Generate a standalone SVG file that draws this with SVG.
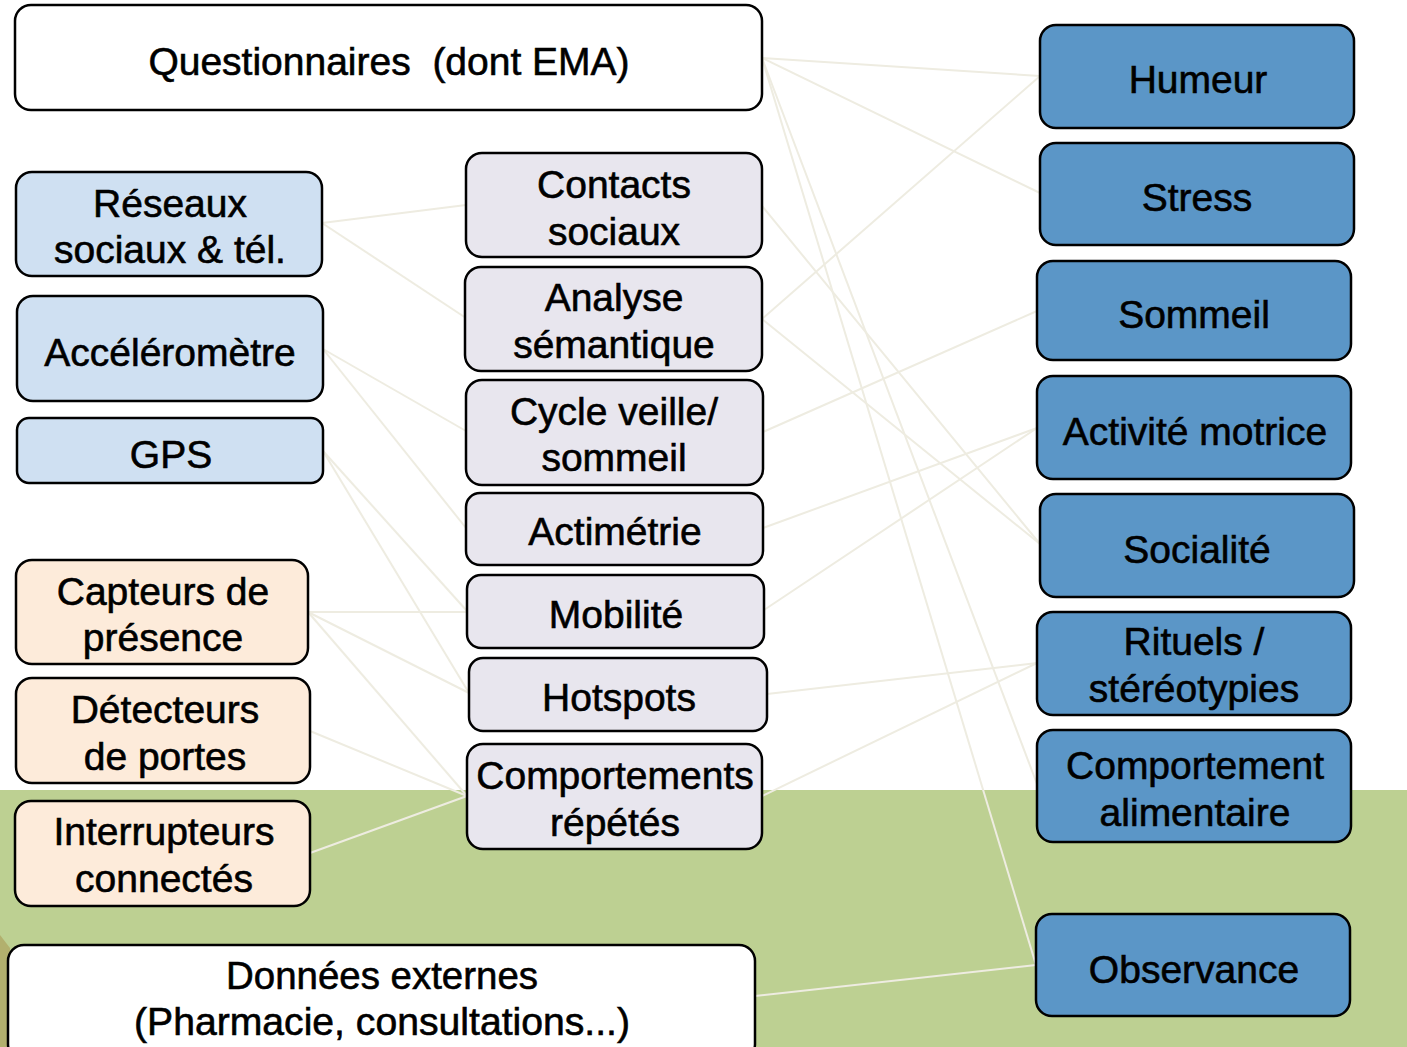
<svg xmlns="http://www.w3.org/2000/svg" width="1407" height="1047" viewBox="0 0 1407 1047">
<style>
.box{stroke:#000;stroke-width:2.5}
.w{fill:#fff}.b{fill:#5B96C7}.lb{fill:#CFE0F2}.pe{fill:#FDEBDA}.lv{fill:#E8E6EE}
text{font-family:"Liberation Sans",Arial,sans-serif;font-size:39px;fill:#000;stroke:#000;stroke-width:0.6;text-anchor:middle}
.c line{stroke:#EEECE1;stroke-width:2}
</style>
<rect x="0" y="0" width="1407" height="1047" fill="#fff"/>
<rect x="0" y="790" width="1407" height="257" fill="#BDD092"/>
<polygon points="0,935 10,948 10,1047 0,1047" fill="#B2B06E"/>
<g id="connectors" class="c">
<line x1="762" y1="58" x2="1040" y2="76"/>
<line x1="762" y1="58" x2="1040" y2="193"/>
<line x1="762" y1="58" x2="1036" y2="965"/>
<line x1="762" y1="58" x2="1037" y2="784"/>
<line x1="762" y1="206" x2="1040" y2="544"/>
<line x1="762" y1="319" x2="1040" y2="544"/>
<line x1="762" y1="319" x2="1040" y2="76"/>
<line x1="763" y1="432" x2="1037" y2="311"/>
<line x1="763" y1="528" x2="1037" y2="428"/>
<line x1="764" y1="610" x2="1037" y2="428"/>
<line x1="767" y1="694" x2="1037" y2="663"/>
<line x1="762" y1="796" x2="1037" y2="663"/>
<line x1="755" y1="996" x2="1036" y2="965"/>
<line x1="322" y1="223" x2="466" y2="205"/>
<line x1="322" y1="223" x2="466" y2="318"/>
<line x1="323" y1="349" x2="466" y2="431"/>
<line x1="323" y1="349" x2="466" y2="528"/>
<line x1="323" y1="451" x2="467" y2="611"/>
<line x1="323" y1="451" x2="469" y2="693"/>
<line x1="308" y1="612" x2="467" y2="612"/>
<line x1="308" y1="612" x2="469" y2="693"/>
<line x1="308" y1="612" x2="467" y2="796"/>
<line x1="310" y1="731" x2="467" y2="796"/>
<line x1="310" y1="853" x2="467" y2="796"/>
</g>
<g id="n-questionnaires"><rect class="box w" x="15" y="5" width="747" height="105" rx="16"/><text x="389" y="75" xml:space="preserve" style="white-space:pre">Questionnaires  (dont EMA)</text></g>
<g id="n-humeur"><rect class="box b" x="1040" y="25" width="314" height="103" rx="16"/><text x="1198" y="93">Humeur</text></g>
<g id="n-stress"><rect class="box b" x="1040" y="143" width="314" height="102" rx="16"/><text x="1197" y="211">Stress</text></g>
<g id="n-sommeil"><rect class="box b" x="1037" y="261" width="314" height="99" rx="16"/><text x="1194" y="328">Sommeil</text></g>
<g id="n-activite"><rect class="box b" x="1037" y="376" width="314" height="103" rx="16"/><text x="1195" y="445">Activité motrice</text></g>
<g id="n-socialite"><rect class="box b" x="1040" y="494" width="314" height="103" rx="16"/><text x="1197" y="563">Socialité</text></g>
<g id="n-rituels"><rect class="box b" x="1037" y="612" width="314" height="103" rx="16"/><text x="1194" y="655">Rituels /</text><text x="1194" y="702">stéréotypies</text></g>
<g id="n-alimentaire"><rect class="box b" x="1037" y="730" width="314" height="112" rx="16"/><text x="1195" y="779">Comportement</text><text x="1195" y="826">alimentaire</text></g>
<g id="n-observance"><rect class="box b" x="1036" y="914" width="314" height="102" rx="16"/><text x="1194" y="983">Observance</text></g>
<g id="n-reseaux"><rect class="box lb" x="16" y="172" width="306" height="104" rx="16"/><text x="170" y="217">Réseaux</text><text x="170" y="263">sociaux &amp; tél.</text></g>
<g id="n-accelerometre"><rect class="box lb" x="17" y="296" width="306" height="105" rx="16"/><text x="170" y="366">Accéléromètre</text></g>
<g id="n-gps"><rect class="box lb" x="17" y="418" width="306" height="65" rx="12"/><text x="171" y="468">GPS</text></g>
<g id="n-capteurs"><rect class="box pe" x="16" y="560" width="292" height="104" rx="16"/><text x="163" y="605">Capteurs de</text><text x="163" y="651">présence</text></g>
<g id="n-detecteurs"><rect class="box pe" x="16" y="678" width="294" height="105" rx="16"/><text x="165" y="723">Détecteurs</text><text x="165" y="770">de portes</text></g>
<g id="n-interrupteurs"><rect class="box pe" x="15" y="801" width="295" height="105" rx="16"/><text x="164" y="845">Interrupteurs</text><text x="164" y="892">connectés</text></g>
<g id="n-donnees"><rect class="box w" x="8" y="945" width="747" height="115" rx="16"/><text x="382" y="989" textLength="312" lengthAdjust="spacingAndGlyphs">Données externes</text><text x="382" y="1035" textLength="496" lengthAdjust="spacingAndGlyphs">(Pharmacie, consultations...)</text></g>
<g id="n-contacts"><rect class="box lv" x="466" y="153" width="296" height="104" rx="16"/><text x="614" y="198">Contacts</text><text x="614" y="245">sociaux</text></g>
<g id="n-analyse"><rect class="box lv" x="465" y="267" width="297" height="104" rx="16"/><text x="614" y="311">Analyse</text><text x="614" y="358">sémantique</text></g>
<g id="n-cycle"><rect class="box lv" x="466" y="380" width="297" height="105" rx="16"/><text x="614" y="425">Cycle veille/</text><text x="614" y="471">sommeil</text></g>
<g id="n-actimetrie"><rect class="box lv" x="466" y="493" width="297" height="72" rx="14"/><text x="615" y="545">Actimétrie</text></g>
<g id="n-mobilite"><rect class="box lv" x="467" y="575" width="297" height="73" rx="14"/><text x="616" y="628">Mobilité</text></g>
<g id="n-hotspots"><rect class="box lv" x="469" y="658" width="298" height="73" rx="14"/><text x="619" y="711">Hotspots</text></g>
<g id="n-repetes"><rect class="box lv" x="467" y="744" width="295" height="105" rx="16"/><text x="615" y="789">Comportements</text><text x="615" y="836">répétés</text></g>
</svg>
